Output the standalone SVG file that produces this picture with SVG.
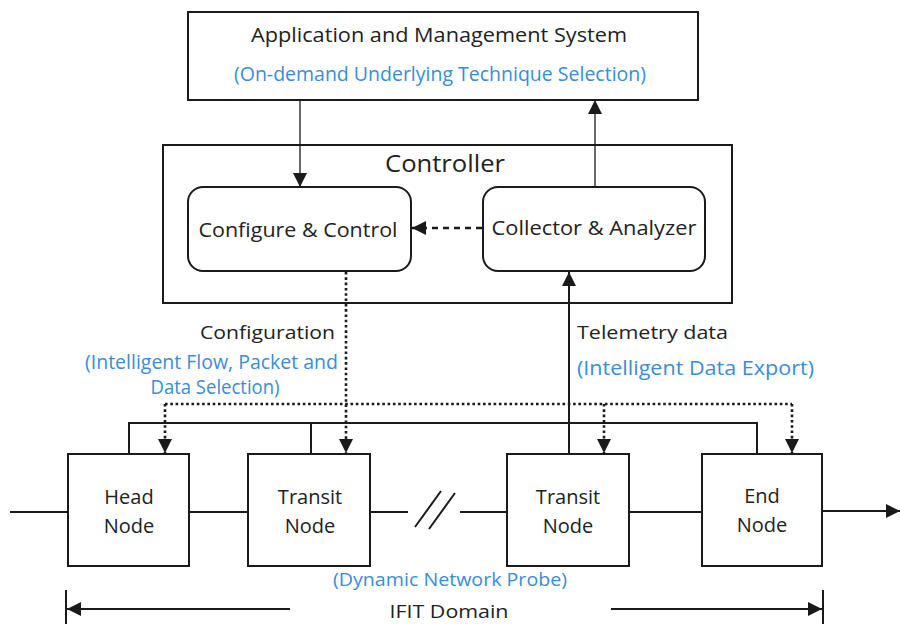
<svg xmlns="http://www.w3.org/2000/svg" width="900" height="624" viewBox="0 0 900 624">
  <style>
    .box { fill: #fff; stroke: #1a1a1a; stroke-width: 2; }
    .t { font-family: "Open Sans", "Noto Sans", "Liberation Sans", sans-serif; fill: #222; }
    .b { font-family: "Open Sans", "Noto Sans", "Liberation Sans", sans-serif; fill: #3a8dd4; }
    .ln { fill: none; stroke: #1a1a1a; stroke-width: 2; }
    .thin { fill: none; stroke: #1a1a1a; stroke-width: 1.3; }
    .dot { fill: none; stroke: #1a1a1a; stroke-width: 2.6; stroke-dasharray: 2.6 2.7; }
    .dash { fill: none; stroke: #1a1a1a; stroke-width: 2.4; stroke-dasharray: 6 5; }
  </style>
  <defs>
    <marker id="arrow" markerUnits="userSpaceOnUse" viewBox="0 0 14 14" markerWidth="14" markerHeight="14" refX="14" refY="7" orient="auto">
      <path d="M0,0 L14,7 L0,14 z" fill="#1a1a1a" stroke="none"/>
    </marker>
  </defs>

  <rect width="900" height="624" fill="#fff"/>

  <g id="app-mgmt">
    <rect class="box" x="188" y="12" width="510" height="88"/>
    <text class="t" x="439" y="42" font-size="20" text-anchor="middle" textLength="376" lengthAdjust="spacingAndGlyphs">Application and Management System</text>
    <text class="b" x="440" y="81" font-size="20" text-anchor="middle" textLength="412" lengthAdjust="spacingAndGlyphs">(On-demand Underlying Technique Selection)</text>
  </g>

  <g id="controller">
    <rect class="box" x="163" y="145" width="569" height="158"/>
    <text class="t" x="445" y="172" font-size="23" text-anchor="middle" textLength="120" lengthAdjust="spacingAndGlyphs">Controller</text>
  </g>

  <g id="configure-control">
    <rect class="box" x="188" y="187" width="223" height="84" rx="15"/>
    <text class="t" x="298" y="237" font-size="20" text-anchor="middle" textLength="199" lengthAdjust="spacingAndGlyphs">Configure &amp; Control</text>
  </g>

  <g id="collector-analyzer">
    <rect class="box" x="483" y="187" width="222" height="84" rx="15"/>
    <text class="t" x="594" y="235" font-size="20" text-anchor="middle" textLength="205" lengthAdjust="spacingAndGlyphs">Collector &amp; Analyzer</text>
  </g>

  <g id="head-node">
    <rect class="box" x="68" y="454" width="121" height="112"/>
    <text class="t" x="129" y="504" font-size="20" text-anchor="middle">Head</text>
    <text class="t" x="129" y="533" font-size="20" text-anchor="middle">Node</text>
  </g>

  <g id="transit-node-1">
    <rect class="box" x="248" y="454" width="122" height="112"/>
    <text class="t" x="310" y="504" font-size="20" text-anchor="middle">Transit</text>
    <text class="t" x="310" y="533" font-size="20" text-anchor="middle">Node</text>
  </g>

  <g id="transit-node-2">
    <rect class="box" x="507" y="454" width="122" height="112"/>
    <text class="t" x="568" y="504" font-size="20" text-anchor="middle">Transit</text>
    <text class="t" x="568" y="533" font-size="20" text-anchor="middle">Node</text>
  </g>

  <g id="end-node">
    <rect class="box" x="702" y="454" width="120" height="112"/>
    <text class="t" x="762" y="503" font-size="20" text-anchor="middle">End</text>
    <text class="t" x="762" y="532" font-size="20" text-anchor="middle">Node</text>
  </g>

  <g id="labels">
    <text class="t" x="335" y="339" font-size="19" text-anchor="end" textLength="135" lengthAdjust="spacingAndGlyphs">Configuration</text>
    <text class="b" x="338" y="369" font-size="20" text-anchor="end" textLength="253" lengthAdjust="spacingAndGlyphs">(Intelligent Flow, Packet and</text>
    <text class="b" x="215" y="394" font-size="20" text-anchor="middle" textLength="129" lengthAdjust="spacingAndGlyphs">Data Selection)</text>
    <text class="t" x="577" y="339" font-size="19" textLength="151" lengthAdjust="spacingAndGlyphs">Telemetry data</text>
    <text class="b" x="577" y="375" font-size="20" textLength="237" lengthAdjust="spacingAndGlyphs">(Intelligent Data Export)</text>
    <text class="b" x="450" y="586" font-size="19" text-anchor="middle" textLength="234" lengthAdjust="spacingAndGlyphs">(Dynamic Network Probe)</text>
    <text class="t" x="449" y="618" font-size="19" text-anchor="middle" textLength="119" lengthAdjust="spacingAndGlyphs">IFIT Domain</text>
  </g>

  <!-- connectors -->
  <g id="connectors">
    <!-- management system <-> controller -->
    <line class="thin" x1="300" y1="100" x2="300" y2="187" marker-end="url(#arrow)"/>
    <line class="thin" x1="595" y1="187" x2="595" y2="100" marker-end="url(#arrow)"/>
    <!-- analyzer -> configure -->
    <line class="dash" x1="482" y1="228" x2="412" y2="228" marker-end="url(#arrow)"/>
    <!-- configuration distribution (dotted) -->
    <line class="dot" x1="346" y1="272" x2="346" y2="453" marker-end="url(#arrow)"/>
    <line class="dot" x1="165" y1="404" x2="792" y2="404"/>
    <line class="dot" x1="165" y1="404" x2="165" y2="453" marker-end="url(#arrow)"/>
    <line class="dot" x1="604" y1="404" x2="604" y2="453" marker-end="url(#arrow)"/>
    <line class="dot" x1="792" y1="404" x2="792" y2="453" marker-end="url(#arrow)"/>
    <!-- telemetry collection (solid) -->
    <path class="ln" d="M129,454 V423 H757 V454 M311,423 V454"/>
    <line class="ln" x1="569" y1="454" x2="569" y2="272" marker-end="url(#arrow)"/>
    <!-- data path -->
    <line class="ln" x1="10" y1="512" x2="68" y2="512"/>
    <line class="ln" x1="189" y1="512" x2="248" y2="512"/>
    <line class="ln" x1="370" y1="512" x2="408" y2="512"/>
    <line class="ln" x1="460" y1="512" x2="507" y2="512"/>
    <line class="ln" x1="629" y1="512" x2="702" y2="512"/>
    <line class="ln" x1="822" y1="511" x2="900" y2="511" marker-end="url(#arrow)"/>
    <line class="ln" x1="415" y1="527" x2="441" y2="491"/>
    <line class="ln" x1="429" y1="529" x2="455" y2="493"/>
    <!-- domain span -->
    <line class="ln" x1="66" y1="590" x2="66" y2="624"/>
    <line class="ln" x1="823" y1="590" x2="823" y2="624"/>
    <line class="ln" x1="290" y1="609" x2="67" y2="609" marker-end="url(#arrow)"/>
    <line class="ln" x1="611" y1="609" x2="822" y2="609" marker-end="url(#arrow)"/>
  </g>
</svg>
